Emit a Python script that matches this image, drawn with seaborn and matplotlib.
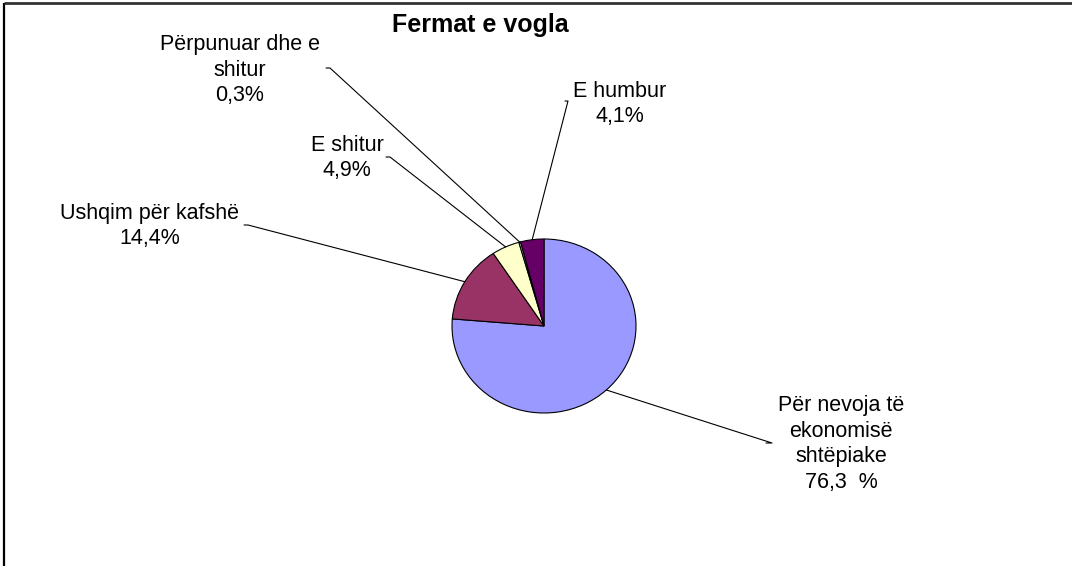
import matplotlib.pyplot as plt
import numpy as np
import seaborn as sns

# Data
TITLE = "Fermat e vogla"
NAMES = [
    "Për nevoja të\nekonomisë\nshtëpiake",
    "Ushqim për kafshë",
    "E shitur",
    "Përpunuar dhe e\nshitur",
    "E humbur",
]
VALUES = [76.3, 14.4, 4.9, 0.3, 4.1]
PCT_FMT = ["{}  %", "{}%", "{}%", "{}%", "{}%"]
COLORS = ["#9999FF", "#993366", "#FFFFCC", "#CCFFFF", "#660066"]

# Layout in pixels (figure 1072 x 566)
W, H = 1072, 566
PIE_BOX = (452, 239, 636, 413)  # left, top, right, bottom
LABEL_POS = [(841, 444), (150, 226), (347, 158), (240, 70), (620, 104)]
ANCHORS = [(772, 443), (248, 225), (390, 157), (330, 68), (568, 101)]
TICK = [-6, -4, -4, -4, -3]

sns.set_theme(style="white")
plt.rcParams["font.family"] = ["Liberation Sans", "DejaVu Sans"]

fig = plt.figure(figsize=(W / 100, H / 100), dpi=100)
fig.patch.set_facecolor("white")

# overlay axes in pixel coordinates
ov = fig.add_axes([0, 0, 1, 1], zorder=2)
ov.set_xlim(0, W)
ov.set_ylim(H, 0)
ov.axis("off")
ov.patch.set_alpha(0)

# frame (only left and top are visible in the crop)
ov.plot([4, 4], [3, H], color="black", lw=1.6, solid_capstyle="butt")
ov.plot([4, W], [3, 3], color="#333333", lw=2.0, solid_capstyle="butt")

l, t, r, b = PIE_BOX
ax = fig.add_axes([l / W, (H - b) / H, (r - l) / W, (b - t) / H], zorder=1)
wedges, _ = ax.pie(
    VALUES,
    colors=COLORS,
    startangle=90,
    counterclock=False,
    wedgeprops=dict(edgecolor="black", linewidth=0.8),
)
ax.set_aspect("auto")
ax.set_xlim(-1, 1)
ax.set_ylim(-1, 1)
ax.axis("off")

to_ov = ax.transData + ov.transData.inverted()
for w, name, v, fmt, pos, anc, tk in zip(
    wedges, NAMES, VALUES, PCT_FMT, LABEL_POS, ANCHORS, TICK
):
    mid = np.deg2rad((w.theta1 + w.theta2) / 2)
    px, py = to_ov.transform((np.cos(mid), np.sin(mid)))
    ov.plot(
        [anc[0] + tk, anc[0], px],
        [anc[1], anc[1], py],
        color="black",
        lw=0.8,
    )
    pct = fmt.format(f"{v:.1f}".replace(".", ","))
    ov.text(
        pos[0], pos[1], f"{name}\n{pct}",
        ha="center", va="center", fontsize=15.5, linespacing=1.3,
        color="black",
    )

ov.text(480, 25, TITLE, ha="center", va="center", fontsize=18,
        fontweight="bold", color="black")

fig.savefig("out.png", dpi=100)
